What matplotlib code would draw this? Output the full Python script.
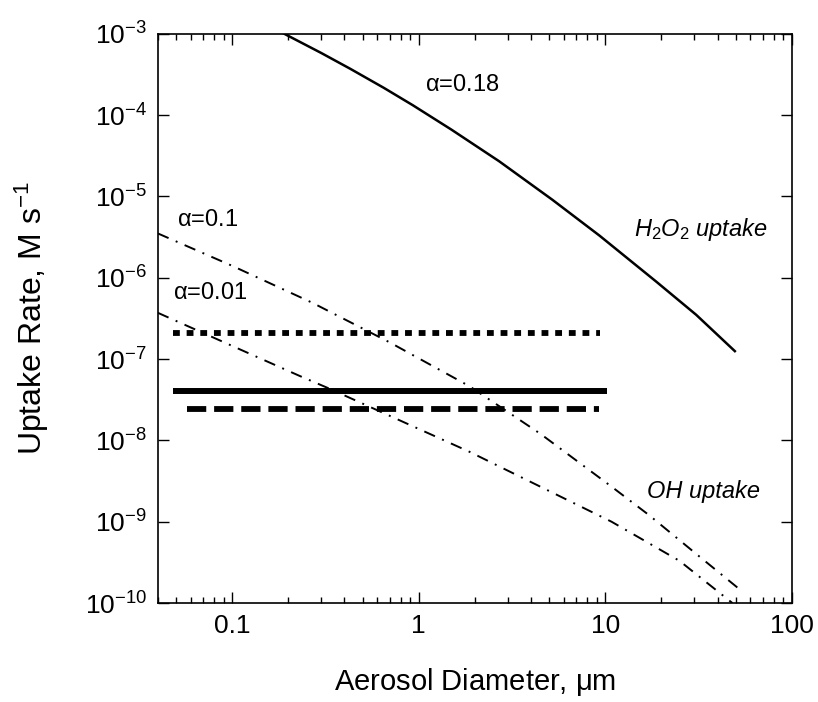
import numpy as np
import matplotlib
matplotlib.use("Agg")
import matplotlib.pyplot as plt

plt.rcParams['font.family'] = ['Liberation Sans', 'DejaVu Sans']
plt.rcParams['mathtext.fontset'] = 'custom'
plt.rcParams['mathtext.rm'] = 'Liberation Sans'
plt.rcParams['mathtext.it'] = 'Liberation Sans:italic'

# H2O2 uptake, alpha = 0.18
h2o2_d = [0.19, 0.3, 0.43, 0.65, 0.93, 1.5, 2.7, 5.2, 9.3, 18.7, 30.7, 49.5]
h2o2_rate = [1.0e-3, 5.8e-4, 3.7e-4, 2.16e-4, 1.32e-4, 6.6e-5, 2.7e-5,
             9.1e-6, 3.3e-6, 9.0e-7, 3.5e-7, 1.25e-7]

# OH uptake, alpha = 0.1
oh1_d = [0.04, 0.1, 0.27, 0.7, 1.88, 4.5, 10.8, 17.2, 30, 52]
oh1_rate = [3.5e-6, 1.4e-6, 4.9e-7, 1.6e-7, 4.6e-8, 1.2e-8, 2.7e-9, 1.2e-9,
            4.2e-10, 1.5e-10]

# OH uptake, alpha = 0.01
oh01_d = [0.04, 0.1, 0.23, 0.334, 1.88, 10.8, 25, 48]
oh01_rate = [3.7e-7, 1.45e-7, 6.2e-8, 4.3e-8, 7.2e-9, 1.0e-9, 3.3e-10, 1.0e-10]

# horizontal reference rates
dotted_d = [0.048, 9.4]
dotted_rate = [2.1e-7, 2.1e-7]
solid_d = [0.048, 10.2]
solid_rate = [4.1e-8, 4.1e-8]
dashed_d = [0.057, 9.3]
dashed_rate = [2.45e-8, 2.45e-8]

fig = plt.figure(figsize=(8.18, 7.02), dpi=100)
ax = fig.add_axes([0.193, 0.141, 0.775, 0.811])

dashdot = (0, (6, 4, 1, 4))
ax.plot(h2o2_d, h2o2_rate, color='black', lw=1.8)
ax.plot(oh1_d, oh1_rate, color='black', lw=1.4, linestyle=dashdot)
ax.plot(oh01_d, oh01_rate, color='black', lw=1.4, linestyle=dashdot)
ax.plot(dotted_d, dotted_rate, color='black', lw=4.2, linestyle=(0, (1.17, 1.17)),
        dash_capstyle='butt')
ax.plot(solid_d, solid_rate, color='black', lw=4.3, solid_capstyle='butt')
ax.plot(dashed_d, dashed_rate, color='black', lw=4.2, linestyle=(0, (3.3, 1.35)),
        dash_capstyle='butt')

ax.set_xscale('log')
ax.set_yscale('log')
ax.set_xlim(0.04, 100)
ax.set_ylim(1e-10, 1e-3)

ax.set_xticks([0.1, 1, 10, 100])
ax.set_xticklabels(['0.1', '1', '10', '100'])
yt = [1e-10, 1e-9, 1e-8, 1e-7, 1e-6, 1e-5, 1e-4, 1e-3]
ax.set_yticks(yt)
ax.set_yticklabels([r'$\mathregular{10^{%d}}$' % int(np.log10(v)) for v in yt])
ax.yaxis.set_minor_locator(matplotlib.ticker.NullLocator())

ax.tick_params(which='both', direction='in', top=True, right=True, labelsize=19, width=1)
ax.tick_params(which='major', length=8, pad=8)
ax.tick_params(which='minor', length=4)
for s in ax.spines.values():
    s.set_linewidth(1.2)

ax.set_xlabel(r'Aerosol Diameter, $\mathregular{\mu}$m', fontsize=21, labelpad=20)
ax.set_ylabel(r'Uptake Rate, M s$^{\mathregular{-1}}$', fontsize=23, labelpad=24)

ax.text(1.72, 2.35e-4, r'$\mathregular{\alpha}$=0.18', fontsize=17, ha='center', va='center')
ax.text(0.0508, 5.1e-6, r'$\mathregular{\alpha}$=0.1', fontsize=17, ha='left', va='center')
ax.text(0.048, 6.4e-7, r'$\mathregular{\alpha}$=0.01', fontsize=17, ha='left', va='center')
ax.text(14.3, 3.9e-6, r'$\mathit{H_2O_2}$ uptake', fontsize=17, style='italic',
        ha='left', va='center')
ax.text(16.8, 2.35e-9, 'OH uptake', fontsize=17, style='italic', ha='left', va='center')

fig.savefig('out.png', dpi=100)
